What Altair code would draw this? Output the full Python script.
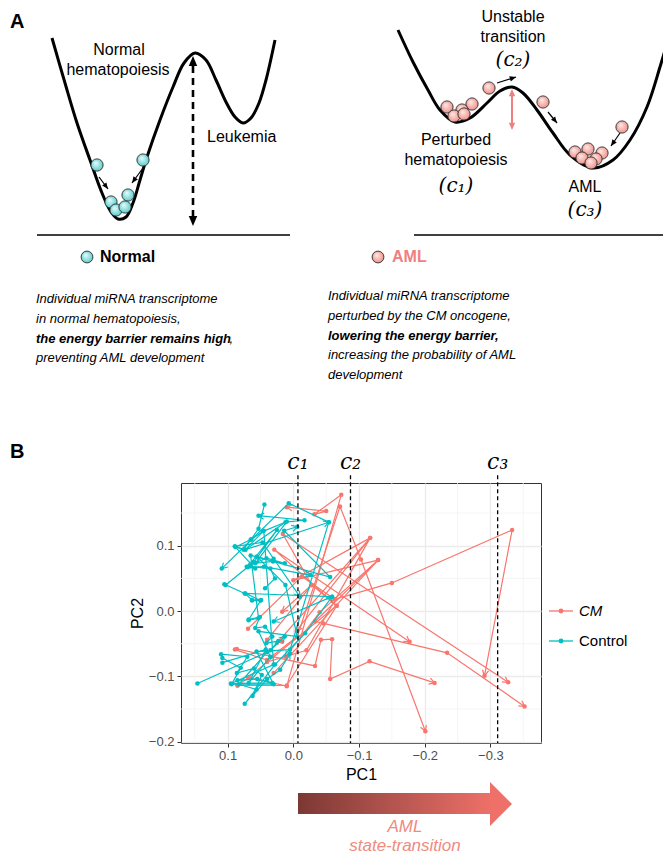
import math
import altair as alt
import pandas as pd

# ---------------- Panel B data (PC1, PC2) ----------------
CM_TRAJ = [
    [(0.085, -0.114), (0.068, -0.102), (0.010, -0.115), (-0.073, 0.178), (-0.032, 0.148), (-0.050, 0.153), (0.010, 0.159)],
    [(0.089, -0.059), (0.040, -0.075), (-0.006, -0.039), (-0.071, 0.160), (-0.103, 0.079), (-0.201, -0.184)],
    [(0.086, -0.058), (-0.033, -0.084), (-0.042, -0.044), (-0.059, -0.043), (-0.056, -0.104), (-0.116, -0.077), (-0.215, -0.110)],
    [(0.040, -0.044), (-0.028, 0.040), (0.016, 0.118), (-0.327, -0.109)],
    [(0.069, -0.027), (-0.013, 0.053), (-0.063, 0.018), (-0.150, 0.043), (-0.333, 0.124), (-0.291, -0.099)],
    [(0.017, -0.047), (0.025, -0.049), (-0.117, 0.112), (0.000, 0.047), (-0.129, 0.078), (-0.033, -0.016), (-0.046, -0.019), (-0.234, -0.064), (-0.352, -0.146)],
    [(0.069, -0.102), (-0.066, 0.008), (0.029, 0.094), (-0.177, -0.047)],
    [(0.085, -0.114), (0.010, -0.114), (-0.066, 0.008), (-0.028, 0.040), (0.017, -0.001)],
    [(0.040, -0.078), (-0.020, -0.060), (-0.117, 0.112), (-0.005, -0.030)],
    [(0.030, -0.095), (-0.129, 0.078), (-0.040, -0.002), (0.012, -0.070)],
]
CTRL_TRAJ = [
    [(0.146, -0.111), (0.040, -0.063), (0.083, -0.112), (0.056, -0.120), (0.074, -0.142), (0.028, -0.082), (-0.018, -0.034), (-0.059, 0.022)],
    [(0.108, -0.072), (0.080, -0.087), (0.094, -0.112), (0.030, -0.112), (0.056, -0.062), (0.005, -0.059), (-0.054, 0.136), (0.007, 0.165), (0.109, 0.065)],
    [(0.108, -0.079), (0.042, -0.059), (0.068, -0.110), (0.035, -0.070), (0.053, -0.031), (-0.006, -0.039), (0.012, 0.040), (0.055, 0.083)],
    [(0.044, 0.163), (0.053, 0.126), (0.064, 0.110), (0.088, 0.098), (0.073, 0.094), (0.012, 0.136), (-0.017, 0.139), (0.053, 0.146)],
    [(0.103, 0.040), (0.060, 0.075), (0.025, 0.124), (0.070, 0.067), (0.045, 0.068), (-0.026, 0.055)],
    [(0.063, 0.016), (0.050, 0.016), (0.073, 0.027), (-0.059, 0.022), (0.030, -0.016)],
    [(0.068, -0.014), (0.053, -0.011), (0.065, 0.085), (0.056, 0.083), (-0.056, 0.052), (0.014, 0.123), (-0.006, 0.129)],
    [(0.085, -0.106), (0.055, -0.104), (0.032, -0.110), (0.095, -0.111), (0.030, -0.082), (0.045, 0.123), (0.073, 0.094), (-0.054, 0.136)],
    [(0.105, 0.041), (0.074, 0.027), (0.063, 0.017), (0.049, 0.017), (0.068, -0.013), (0.051, -0.009), (0.058, -0.026), (0.043, -0.024), (0.032, -0.039), (0.041, -0.049), (0.023, -0.046), (0.035, -0.060), (0.013, -0.039)],
    [(0.043, 0.035), (0.028, 0.050), (0.035, 0.065), (0.066, 0.068), (0.058, 0.065), (0.089, 0.099), (0.047, 0.105), (0.030, 0.080), (-0.010, 0.022)],
    [(0.089, 0.099), (0.076, 0.094), (0.065, 0.109), (0.046, 0.122), (0.010, 0.137), (0.058, 0.073), (0.031, 0.076), (0.013, 0.073), (0.041, 0.081), (0.071, 0.068)],
    [(0.110, -0.066), (0.070, -0.070), (0.086, -0.095), (0.060, -0.088), (0.048, -0.098), (0.062, -0.130), (0.040, -0.104), (0.020, -0.090), (0.005, -0.065)],
]
GROUPS = ["CM", "Control"]
GROUP_COLORS = ["#F8766D", "#00BFC4"]
C_POS = [-0.007, -0.087, -0.311]
C_LAB = ["c\u2081", "c\u2082", "c\u2083"]
X_TICKS = [0.1, 0.0, -0.1, -0.2, -0.3]
Y_TICKS = [-0.2, -0.1, 0.0, 0.1]
X_MINOR = [0.15, 0.05, -0.05, -0.15, -0.25, -0.35]
Y_MINOR = [-0.15, -0.05, 0.05, 0.15]
X_DOM = [-0.377, 0.171]
Y_DOM = [-0.202, 0.196]

# ---------------- Panel A diagram data (page pixel coordinates) ----------------
LEFT_WELL_X = [52, 65, 77, 90, 102, 111, 118, 126, 133, 140, 147, 160, 173, 184, 195, 206, 216, 226, 235, 243, 251, 259, 266, 275]
LEFT_WELL_Y = [38, 83, 123, 160, 193, 212, 219, 217, 203, 180, 157, 120, 87, 63, 53, 60, 80, 102, 117, 123, 118, 103, 80, 40]
RIGHT_WELL_X = [398, 413, 428, 440, 455, 470, 487, 500, 512, 523, 537, 553, 570, 593, 613, 630, 647, 660, 670]
RIGHT_WELL_Y = [30, 62, 90, 110, 122, 118, 103, 91, 87, 93, 110, 133, 155, 168, 160, 140, 107, 67, 33]
NORMAL_BALLS = [(111, 202), (128, 195), (116, 210), (125, 207), (97, 165), (143, 160)]
AML_BALLS = [(447, 107), (472, 104), (462, 110), (454, 116), (464, 114), (489, 88), (543, 102),
             (575, 152), (588, 149), (602, 153), (582, 158), (596, 159), (591, 163), (622, 127)]

W, H = 360, 260
PLOT_LEFT, PLOT_TOP = 181, 483
KX = (X_DOM[1] - X_DOM[0]) / W
KY = (Y_DOM[1] - Y_DOM[0]) / H

# ---------------- Build panel B table ----------------
rows = []
for grp, trajs in zip(GROUPS, (CM_TRAJ, CTRL_TRAJ)):
    for s, traj in enumerate(trajs):
        n = len(traj)
        for i, (p1, p2) in enumerate(traj):
            ang = 0.0
            if i == n - 1:
                d1 = p1 - traj[i - 1][0]
                d2 = p2 - traj[i - 1][1]
                dx = -d1 / KX
                dy = -d2 / KY
                ang = (math.degrees(math.atan2(dx, -dy)) + 360) % 360
            rows.append(dict(group=grp, sample=f"{grp}{s}", step=i, PC1=p1, PC2=p2,
                             last=(i == n - 1), angle=ang))
df = pd.DataFrame(rows)

xs = alt.Scale(domain=X_DOM, reverse=True, nice=False, zero=False)
ys = alt.Scale(domain=Y_DOM, nice=False, zero=False)
cs = alt.Scale(domain=GROUPS, range=GROUP_COLORS)

SANS = "Liberation Sans"
x_axis = alt.Axis(title="PC1", values=X_TICKS, format=".1f", grid=True, gridColor="#EBEBEB",
                  gridWidth=1.3, domain=False, tickColor="#333333", tickSize=4, tickWidth=1,
                  labelColor="#4D4D4D", labelFontSize=13, labelFont=SANS, labelPadding=2,
                  titleFont=SANS, titleFontSize=16, titleColor="#000000", titleFontWeight="normal",
                  titlePadding=4)
y_axis = alt.Axis(title="PC2", values=Y_TICKS, format=".1f", grid=True, gridColor="#EBEBEB",
                  gridWidth=1.3, domain=False, tickColor="#333333", tickSize=4, tickWidth=1,
                  labelColor="#4D4D4D", labelFontSize=13, labelFont=SANS, labelPadding=3,
                  titleFont=SANS, titleFontSize=16, titleColor="#000000", titleFontWeight="normal",
                  titlePadding=3)


def XE(f):
    return alt.X(f"{f}:Q", scale=xs, axis=x_axis)


def YE(f):
    return alt.Y(f"{f}:Q", scale=ys, axis=y_axis)


layers = []
layers.append(alt.Chart(pd.DataFrame({"v": X_MINOR})).mark_rule(color="#F3F3F3", strokeWidth=0.8).encode(x=XE("v")))
layers.append(alt.Chart(pd.DataFrame({"v": Y_MINOR})).mark_rule(color="#F3F3F3", strokeWidth=0.8).encode(y=YE("v")))

OPEN_ARROW = "M-0.55,0.95L0,0L0.55,0.95"
base = alt.Chart(df)
for g in GROUPS:
    sub = base.transform_filter(alt.datum.group == g)
    col = alt.Color("group:N", scale=cs, legend=None)
    layers.append(sub.mark_line(strokeWidth=1.2).encode(
        x=XE("PC1"), y=YE("PC2"), color=col, detail="sample:N", order="step:Q"))
    layers.append(sub.mark_circle(size=20, opacity=1).encode(x=XE("PC1"), y=YE("PC2"), color=col))
    layers.append(sub.transform_filter(alt.datum.last).mark_point(
        shape=OPEN_ARROW, filled=False, size=130, strokeWidth=1.2, opacity=1).encode(
        x=XE("PC1"), y=YE("PC2"), color=col, angle=alt.Angle("angle:Q", scale=None)))

cdf = pd.DataFrame({"c": C_POS, "lab": C_LAB})
layers.append(alt.Chart(cdf).mark_rule(color="black", strokeDash=[4, 3], strokeWidth=1.3).encode(
    x=XE("c"), y=alt.Y(datum=0.208, scale=ys, axis=y_axis), y2=alt.Y2(datum=-0.202)))
layers.append(alt.Chart(cdf).mark_text(font="DejaVu Serif", fontStyle="italic", fontSize=22,
                                       align="center", baseline="middle", color="black").encode(
    x=XE("c"), y=alt.Y(datum=0.228, scale=ys, axis=y_axis), text="lab:N"))


# ---------------- Panel A and annotations (page coordinates mapped onto data units) ----------------
def page(chart, pairs=(("x", "y"),)):
    out = chart
    for i, (fx, fy) in enumerate(pairs):
        out = out.transform_calculate(**{
            f"px{i}": f"{X_DOM[1]} - (datum.{fx} - {PLOT_LEFT}) * {KX}",
            f"py{i}": f"{Y_DOM[1]} - (datum.{fy} - {PLOT_TOP}) * {KY}",
        })
    return out


curves = pd.DataFrame(
    [dict(curve="left", k=i, x=x, y=y) for i, (x, y) in enumerate(zip(LEFT_WELL_X, LEFT_WELL_Y))]
    + [dict(curve="right", k=i, x=x, y=y) for i, (x, y) in enumerate(zip(RIGHT_WELL_X, RIGHT_WELL_Y))]
)
layers.append(page(alt.Chart(curves)).mark_line(color="black", strokeWidth=3, interpolate="catmull-rom").encode(
    x=XE("px0"), y=YE("py0"), detail="curve:N", order="k:Q"))

BASELINES = [(37, 235, 290, 235), (414, 235, 667, 235)]


def segs(data, **kw):
    d = pd.DataFrame(data, columns=["x", "y", "x2", "y2"])
    return page(alt.Chart(d), (("x", "y"), ("x2", "y2"))).mark_rule(**kw).encode(
        x=XE("px0"), y=YE("py0"), x2="px1:Q", y2="py1:Q")


layers.append(segs(BASELINES, color="black", strokeWidth=1.4))

HEAD = "M0,0L0.6,1.4L-0.6,1.4Z"


def arrow(shafts, tips, color, width, head_size, dash=None):
    kw = dict(color=color, strokeWidth=width)
    if dash:
        kw["strokeDash"] = dash
    out = [segs(shafts, **kw)]
    hrows = []
    for (tx, ty, fx, fy) in tips:
        ang = (math.degrees(math.atan2(tx - fx, -(ty - fy))) + 360) % 360
        hrows.append(dict(x=tx, y=ty, angle=ang))
    out.append(page(alt.Chart(pd.DataFrame(hrows))).mark_point(
        shape=HEAD, filled=True, fill=color, size=head_size, opacity=1, strokeWidth=0).encode(
        x=XE("px0"), y=YE("py0"), angle=alt.Angle("angle:Q", scale=None)))
    return out


layers += arrow([(193, 66, 193, 216)], [(193, 56, 193, 70), (193, 226, 193, 212)], "black", 2.6, 200, dash=[7, 5])
layers += arrow([(512, 96, 512, 123)], [(512, 89, 512, 100), (512, 130, 512, 119)], "#F08080", 2.0, 110)
SMALL = [(99, 177, 108, 189), (143, 168, 132, 183), (497, 83, 516, 77), (548, 112, 557, 123), (620, 133, 611, 146)]
layers += arrow(SMALL, [(x2, y2, x1, y1) for (x1, y1, x2, y2) in SMALL], "black", 1.2, 80)

CYAN_GRAD = {"gradient": "radial", "x1": 0.38, "y1": 0.32, "r1": 0.0, "x2": 0.5, "y2": 0.5, "r2": 0.6,
             "stops": [{"offset": 0, "color": "#EFFDFD"}, {"offset": 1, "color": "#45C6C6"}]}
SALMON_GRAD = {"gradient": "radial", "x1": 0.38, "y1": 0.32, "r1": 0.0, "x2": 0.5, "y2": 0.5, "r2": 0.6,
               "stops": [{"offset": 0, "color": "#FFEDEA"}, {"offset": 1, "color": "#EC857D"}]}


def balls(pos, grad, size=150):
    return page(alt.Chart(pd.DataFrame(pos, columns=["x", "y"]))).mark_point(
        shape="circle", filled=True, fill=grad, stroke="#2E2E2E", strokeWidth=0.9, size=size, opacity=1).encode(
        x=XE("px0"), y=YE("py0"))


layers += [balls(NORMAL_BALLS, CYAN_GRAD), balls(AML_BALLS, SALMON_GRAD),
           balls([(87, 257)], CYAN_GRAD, 140), balls([(378, 257)], SALMON_GRAD, 140)]


def texts(labels, pos, **props):
    d = pd.DataFrame({"label": labels, "x": [p[0] for p in pos], "y": [p[1] for p in pos]})
    props.setdefault("baseline", "middle")
    props.setdefault("font", SANS)
    props.setdefault("color", "black")
    return page(alt.Chart(d)).mark_text(**props).encode(x=XE("px0"), y=YE("py0"), text="label:N")


DIAG_LABELS = ["Normal", "hematopoiesis", "Unstable", "transition", "Perturbed", "hematopoiesis", "AML"]
DIAG_POS = [(119, 50), (118, 70), (513, 17), (513, 37), (456, 140), (456, 160), (585, 187)]
layers.append(texts(DIAG_LABELS, DIAG_POS, fontSize=16, align="center"))
layers.append(texts(["Leukemia"], [(207, 137)], fontSize=16, align="left"))
MATH_LABELS = ["(c\u2082)", "(c\u2081)", "(c\u2083)"]
MATH_POS = [(513, 60), (456, 186), (585, 210)]
layers.append(texts(MATH_LABELS, MATH_POS, font="DejaVu Serif", fontStyle="italic", fontSize=20, align="center"))

layers.append(texts(["A", "B"], [(10, 22), (10, 452)], fontSize=20, fontWeight="bold", align="left"))
layers.append(texts(["Normal"], [(100, 257)], fontSize=16, fontWeight="bold", align="left"))
layers.append(texts(["AML"], [(392, 257)], fontSize=16, fontWeight="bold", align="left", color="#F08080"))

LEFT_DESC = ["Individual miRNA transcriptome", "in normal hematopoiesis,", None, "preventing AML development"]
LEFT_BOLD = "the energy barrier remains high"
RIGHT_DESC = ["Individual miRNA transcriptome", "perturbed by the CM oncogene,", None,
              "increasing the probability of AML", "development"]
RIGHT_BOLD = "lowering the energy barrier,"
LEFT_Y = [299, 319, 339, 358]
RIGHT_Y = [296, 316, 336, 355, 375]
layers.append(texts([t for t in LEFT_DESC if t], [(36, y) for t, y in zip(LEFT_DESC, LEFT_Y) if t],
                    fontSize=13, fontStyle="italic", align="left"))
layers.append(texts([t for t in RIGHT_DESC if t], [(328, y) for t, y in zip(RIGHT_DESC, RIGHT_Y) if t],
                    fontSize=13, fontStyle="italic", align="left"))
layers.append(texts([LEFT_BOLD, RIGHT_BOLD], [(36, LEFT_Y[2]), (328, RIGHT_Y[2])],
                    fontSize=13, fontStyle="italic", fontWeight="bold", align="left"))
layers.append(texts([","], [(229.5, LEFT_Y[2])], fontSize=13, fontStyle="italic", align="left"))

# manual legend for panel B
LEG_Y = [611, 641]
leg = pd.DataFrame({"group": GROUPS, "x": [549, 549], "x2": [573, 573], "xm": [561, 561], "y": LEG_Y})
layers.append(page(alt.Chart(leg), (("x", "y"), ("x2", "y"))).mark_rule(strokeWidth=1.3).encode(
    x=XE("px0"), x2="px1:Q", y=YE("py0"), color=alt.Color("group:N", scale=cs, legend=None)))
layers.append(page(alt.Chart(leg), (("xm", "y"),)).mark_circle(size=24, opacity=1).encode(
    x=XE("px0"), y=YE("py0"), color=alt.Color("group:N", scale=cs, legend=None)))
layers.append(texts(["CM"], [(579, LEG_Y[0])], fontSize=15, fontStyle="italic", align="left"))
layers.append(texts(["Control"], [(579, LEG_Y[1])], fontSize=15, align="left"))

# AML state-transition arrow
BODY_GRAD = {"gradient": "linear", "x1": 0, "y1": 0, "x2": 1, "y2": 0,
             "stops": [{"offset": 0, "color": "#7C3834"}, {"offset": 0.5, "color": "#B5554F"},
                       {"offset": 1, "color": "#EE7068"}]}
body = pd.DataFrame([dict(x=298, y=793, x2=491, y2=814)])
layers.append(page(alt.Chart(body), (("x", "y"), ("x2", "y2"))).mark_rect(fill=BODY_GRAD).encode(
    x=XE("px0"), x2="px1:Q", y=YE("py0"), y2="py1:Q"))
layers.append(page(alt.Chart(pd.DataFrame([dict(x=490, y=804)]))).mark_point(
    shape="M0,-1L1,0L0,1Z", filled=True, fill="#EE7068", size=1936, opacity=1, strokeWidth=0).encode(
    x=XE("px0"), y=YE("py0")))
layers.append(texts(["AML", "state-transition"], [(405, 827), (405, 846)],
                    fontSize=17, fontStyle="italic", align="center", color="#F08A80"))

chart = alt.layer(*layers).properties(
    width=W, height=H,
    autosize=alt.AutoSizeParams(type="none"),
    padding={"left": PLOT_LEFT - 8, "top": PLOT_TOP - 8, "right": 655 - (PLOT_LEFT - 8) - W,
             "bottom": 851 - (PLOT_TOP - 8) - H},
).configure_view(stroke="#333333", strokeWidth=1)

chart.save("out.html", embed_options={"renderer": "svg", "actions": False})
